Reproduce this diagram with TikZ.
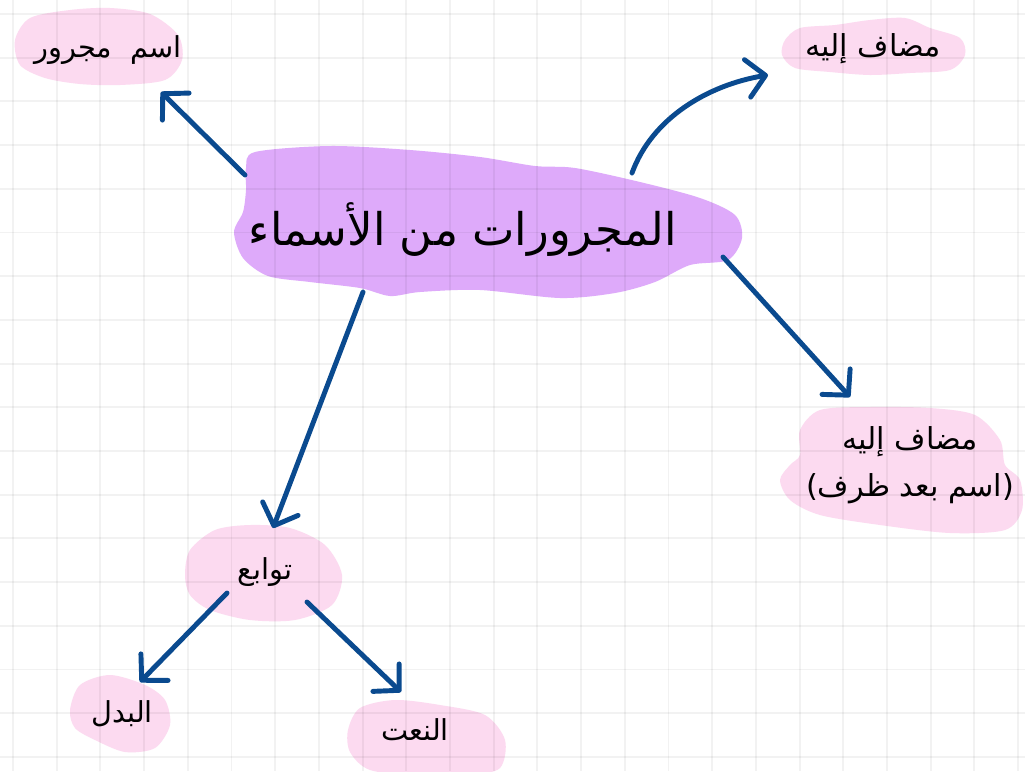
\documentclass[tikz,border=0pt]{standalone}
\usepackage{fontspec}
\usetikzlibrary{arrows.meta}
\newfontfamily\arabicfont[Script=Arabic]{DejaVu Sans}
\TeXXeTstate=1
\definecolor{blobpink}{HTML}{FCDAF0}
\definecolor{blobviolet}{HTML}{DEAAFA}
\definecolor{arrowblue}{HTML}{0A4A8F}
\begin{document}
\begin{tikzpicture}[x=0.025cm,y=-0.025cm,
    blob/.style={fill=blobpink},
    gridline/.style={black,opacity=0.05,line width=1.4pt},
    link/.style={arrowblue,line width=3.5pt,line cap=round,-{Straight Barb[length=13pt,width=27pt,round]}},
    lbl/.style={font=\arabicfont\fontsize{20.5}{31}\selectfont,inner sep=0pt,align=center}]
    \useasboundingbox (0,0) rectangle (1025,771);
    \clip (0,0) rectangle (1025,771);
    \fill[white] (0,0) rectangle (1025,771);
    % blobs
    \fill[blobviolet] plot[smooth cycle] coordinates {(255,152) (330,146) (410,150) (480,157) (535,166) (575,168) (640,182) (700,198) (735,215) (742,238) (728,260) (690,265) (655,282) (615,293) (560,298) (480,290) (420,292) (390,296) (360,288) (310,282) (268,276) (243,258) (234,232) (243,212) (246,190) (246,168)};
    \fill[blob] plot[smooth cycle] coordinates {(15,40) (30,18) (70,10) (110,8) (150,14) (178,35) (182,60) (165,80) (120,85) (80,84) (45,78) (20,65)};
    \fill[blob] plot[smooth cycle] coordinates {(785,40) (800,28) (835,25) (870,20) (905,18) (930,28) (960,38) (965,55) (950,70) (910,73) (870,75) (830,72) (795,68) (782,55)};
    \fill[blob] plot[smooth cycle] coordinates {(800,430) (820,410) (870,407) (930,408) (975,415) (1000,440) (1005,465) (1020,480) (1022,510) (1005,530) (950,533) (880,525) (820,515) (790,500) (780,480) (790,465) (800,455)};
    \fill[blob] plot[smooth cycle] coordinates {(185,575) (190,550) (215,530) (250,525) (290,528) (325,545) (342,575) (332,605) (295,620) (250,620) (210,610) (190,595)};
    \fill[blob] plot[smooth cycle] coordinates {(70,710) (80,685) (110,675) (145,685) (165,700) (170,725) (155,748) (125,752) (95,740) (75,728)};
    \fill[blob] plot[smooth cycle] coordinates {(348,730) (360,708) (395,700) (440,705) (485,715) (505,740) (500,768) (470,775) (420,776) (370,770) (350,752)};
    % grid
    \foreach \gx in {0,...,23} \draw[gridline] (13+43.7*\gx,0) -- (13+43.7*\gx,771);
    \foreach \gy in {0,...,17} \draw[gridline] (0,14+43.7*\gy) -- (1025,14+43.7*\gy);
    % labels
    \node[lbl,font=\arabicfont\fontsize{32}{40}\selectfont] (title) at (463,230) {\beginR المجرورات من الأسماء\endR};
    \node[lbl] (ism) at (108,50) {\beginR اسم~~مجرور\endR};
    \node[lbl,font=\arabicfont\fontsize{21.5}{31}\selectfont] (mudafA) at (873,49) {\beginR مضاف إليه\endR};
    \node[lbl,font=\arabicfont\fontsize{21.5}{33}\selectfont] (mudafB) at (910,465) {\beginR مضاف إليه\endR\\\beginR (اسم بعد ظرف)\endR};
    \node[lbl] (tawabi) at (265,572) {\beginR توابع\endR};
    \node[lbl] (badal) at (122,714) {\beginR البدل\endR};
    \node[lbl] (naat) at (415,730) {\beginR النعت\endR};
    % arrows
    \draw[link] ([shift={(-218,-55)}]title.center) -- ([shift={(53,42)}]ism.center);
    \draw[link] ([shift={(169,-57)}]title.center) .. controls +(20,-55) and +(-60,10) .. ([shift={(-105,26)}]mudafA.center);
    \draw[link] ([shift={(260,27)}]title.center) -- ([shift={(-60,-68)}]mudafB.center);
    \draw[link] ([shift={(-100,62)}]title.center) -- ([shift={(8,-44)}]tawabi.center);
    \draw[link] ([shift={(-38,21)}]tawabi.center) -- ([shift={(18,-32)}]badal.center);
    \draw[link] ([shift={(42,30)}]tawabi.center) -- ([shift={(-14,-38)}]naat.center);
\end{tikzpicture}
\end{document}
